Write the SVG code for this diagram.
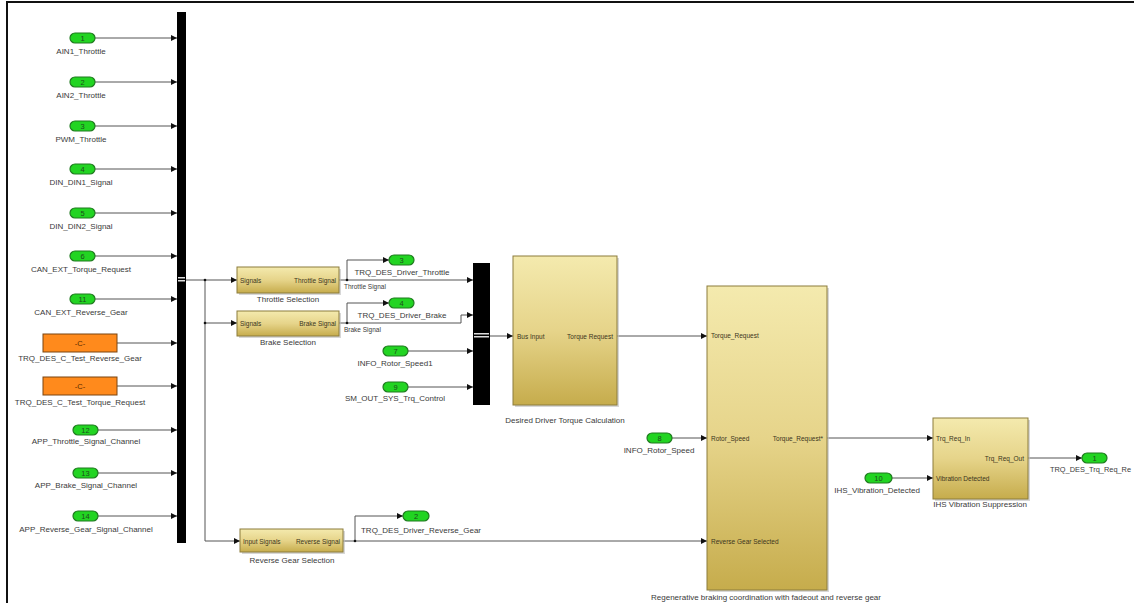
<svg xmlns="http://www.w3.org/2000/svg" width="1134" height="607" viewBox="0 0 1134 607">
<defs>
<linearGradient id="gold" x1="0" y1="0" x2="0" y2="1">
<stop offset="0" stop-color="#f4eaae"/>
<stop offset="0.5" stop-color="#e6d48a"/>
<stop offset="1" stop-color="#c6ac4c"/>
</linearGradient>
<marker id="ar" viewBox="0 0 6 6" refX="6" refY="3" markerWidth="6" markerHeight="6" markerUnits="userSpaceOnUse" orient="auto">
<path d="M0,0 L6,3 L0,6 z" fill="#111"/>
</marker>
<style>
text{font-family:"Liberation Sans",Arial,sans-serif;fill:#3a3a3a}
.lbl{font-size:8px;text-anchor:middle}
.port{font-size:6.5px;fill:#3b3520}
.num{font-size:7.5px;text-anchor:middle;fill:#1d4d1d}
.in{fill:#22d422;stroke:#1f7a1f;stroke-width:1.2}
.cst{fill:#ff8a1c;stroke:#7a4510;stroke-width:1}
.blk{fill:url(#gold);stroke:#8c7c3c;stroke-width:1}
.sh{fill:#bdbdbd;opacity:0.6}
.bus{fill:#000}
.w{stroke:#555;stroke-width:1;fill:none}
.wa{stroke:#555;stroke-width:1;fill:none;marker-end:url(#ar)}
.dot{fill:#111}
</style>
</defs>
<rect width="1134" height="607" fill="#fff"/>
<path d="M7,603 V2 H1134" fill="none" stroke="#111" stroke-width="2"/>

<g id="connectors">
<path class="wa" d="M95,38 H177"/>
<path class="wa" d="M95,82 H177"/>
<path class="wa" d="M95,126 H177"/>
<path class="wa" d="M95,169 H177"/>
<path class="wa" d="M95,213 H177"/>
<path class="wa" d="M95,256 H177"/>
<path class="wa" d="M95,299 H177"/>
<path class="wa" d="M117,343 H177"/>
<path class="wa" d="M117,386 H177"/>
<path class="wa" d="M98,430 H177"/>
<path class="wa" d="M98,473 H177"/>
<path class="wa" d="M98,516 H177"/>
<path class="wa" d="M186,280 H237"/>
<path class="wa" d="M205,280 V323 H237"/>
<path class="wa" d="M205,323 V541 H240"/>
<circle class="dot" cx="205" cy="280" r="1.3"/>
<circle class="dot" cx="205" cy="323" r="1.3"/>
<path class="wa" d="M339,280 H473"/>
<path class="wa" d="M347,280 V260 H389"/>
<circle class="dot" cx="347" cy="280" r="1.3"/>
<path class="wa" d="M339,323 H461 V315 H473"/>
<path class="wa" d="M347,323 V303 H389"/>
<circle class="dot" cx="347" cy="323" r="1.3"/>
<path class="wa" d="M408,351 H473"/>
<path class="wa" d="M408,387 H473"/>
<path class="wa" d="M490,336 H513"/>
<path class="wa" d="M617,336 H707"/>
<path class="wa" d="M672,438 H707"/>
<path class="wa" d="M343,541 H707"/>
<path class="wa" d="M355,541 V516 H403"/>
<circle class="dot" cx="355" cy="541" r="1.3"/>
<path class="wa" d="M827,438 H933"/>
<path class="wa" d="M892,478 H933"/>
<path class="wa" d="M1028,458 H1082"/>
<text x="344" y="289" style="font-size:6.5px">Throttle Signal</text>
<text x="344" y="332" style="font-size:6.5px">Brake Signal</text>
</g>

<g id="bus1"><rect class="bus" x="177" y="12" width="9" height="531"/><rect x="178" y="277" width="7" height="1.5" fill="#ddd"/><rect x="178" y="280" width="7" height="1.5" fill="#ddd"/></g>
<g id="bus2"><rect class="bus" x="473" y="263" width="17" height="142"/><rect x="474" y="333" width="15" height="1.5" fill="#ddd"/><rect x="474" y="336" width="15" height="1.5" fill="#ddd"/></g>

<g id="in1"><rect class="in" x="70" y="33" width="25" height="10" rx="5"/><text class="num" x="82.5" y="40.7">1</text><text class="lbl" x="81" y="54">AIN1_Throttle</text></g>
<g id="in2"><rect class="in" x="70" y="77" width="25" height="10" rx="5"/><text class="num" x="82.5" y="84.7">2</text><text class="lbl" x="81" y="98">AIN2_Throttle</text></g>
<g id="in3"><rect class="in" x="70" y="121" width="25" height="10" rx="5"/><text class="num" x="82.5" y="128.7">3</text><text class="lbl" x="81" y="142">PWM_Throttle</text></g>
<g id="in4"><rect class="in" x="70" y="164" width="25" height="10" rx="5"/><text class="num" x="82.5" y="171.7">4</text><text class="lbl" x="81" y="185">DIN_DIN1_Signal</text></g>
<g id="in5"><rect class="in" x="70" y="208" width="25" height="10" rx="5"/><text class="num" x="82.5" y="215.7">5</text><text class="lbl" x="81" y="229">DIN_DIN2_Signal</text></g>
<g id="in6"><rect class="in" x="70" y="251" width="25" height="10" rx="5"/><text class="num" x="82.5" y="258.7">6</text><text class="lbl" x="81" y="272">CAN_EXT_Torque_Request</text></g>
<g id="in11"><rect class="in" x="70" y="294" width="25" height="10" rx="5"/><text class="num" x="82.5" y="301.7">11</text><text class="lbl" x="81" y="315">CAN_EXT_Reverse_Gear</text></g>
<g id="const1"><rect class="cst" x="43" y="334" width="74" height="18"/><text class="num" x="80" y="345.5" style="fill:#5a2a00">-C-</text><text class="lbl" x="80" y="361">TRQ_DES_C_Test_Reverse_Gear</text></g>
<g id="const2"><rect class="cst" x="43" y="377" width="74" height="18"/><text class="num" x="80" y="388.5" style="fill:#5a2a00">-C-</text><text class="lbl" x="80" y="405">TRQ_DES_C_Test_Torque_Request</text></g>
<g id="in12"><rect class="in" x="73" y="425" width="25" height="10" rx="5"/><text class="num" x="85.5" y="432.7">12</text><text class="lbl" x="86" y="444">APP_Throttle_Signal_Channel</text></g>
<g id="in13"><rect class="in" x="73" y="468" width="25" height="10" rx="5"/><text class="num" x="85.5" y="475.7">13</text><text class="lbl" x="86" y="488">APP_Brake_Signal_Channel</text></g>
<g id="in14"><rect class="in" x="73" y="511" width="25" height="10" rx="5"/><text class="num" x="85.5" y="518.7">14</text><text class="lbl" x="86" y="532">APP_Reverse_Gear_Signal_Channel</text></g>

<g id="throttle_sel"><rect class="sh" x="239" y="269" width="102" height="26"/><rect class="blk" x="237" y="267" width="102" height="26"/><text class="port" x="240" y="282.5">Signals</text><text class="port" x="336" y="282.5" text-anchor="end">Throttle Signal</text><text class="lbl" x="288" y="302">Throttle Selection</text></g>
<g id="brake_sel"><rect class="sh" x="239" y="313" width="102" height="25"/><rect class="blk" x="237" y="311" width="102" height="25"/><text class="port" x="240" y="325.5">Signals</text><text class="port" x="336" y="325.5" text-anchor="end">Brake Signal</text><text class="lbl" x="288" y="345">Brake Selection</text></g>
<g id="reverse_sel"><rect class="sh" x="242" y="531" width="103" height="23"/><rect class="blk" x="240" y="529" width="103" height="23"/><text class="port" x="243" y="543.5">Input Signals</text><text class="port" x="340" y="543.5" text-anchor="end">Reverse Signal</text><text class="lbl" x="292" y="563">Reverse Gear Selection</text></g>

<g id="out3"><rect class="in" x="389" y="255" width="25" height="10" rx="5"/><text class="num" x="401.5" y="262.7">3</text><text class="lbl" x="402" y="275">TRQ_DES_Driver_Throttle</text></g>
<g id="out4"><rect class="in" x="389" y="298" width="25" height="10" rx="5"/><text class="num" x="401.5" y="305.7">4</text><text class="lbl" x="402" y="318">TRQ_DES_Driver_Brake</text></g>
<g id="in7"><rect class="in" x="383" y="346" width="25" height="10" rx="5"/><text class="num" x="395.5" y="353.7">7</text><text class="lbl" x="395" y="366">INFO_Rotor_Speed1</text></g>
<g id="in9"><rect class="in" x="383" y="382" width="25" height="10" rx="5"/><text class="num" x="395.5" y="389.7">9</text><text class="lbl" x="395" y="401">SM_OUT_SYS_Trq_Control</text></g>
<g id="out2"><rect class="in" x="403" y="511" width="26" height="10" rx="5"/><text class="num" x="416" y="518.7">2</text><text class="lbl" x="421" y="533">TRQ_DES_Driver_Reverse_Gear</text></g>

<g id="desired"><rect class="sh" x="515" y="258" width="104" height="149"/><rect class="blk" x="513" y="256" width="104" height="149"/><text class="port" x="517" y="338.5">Bus Input</text><text class="port" x="613" y="338.5" text-anchor="end">Torque Request</text><text class="lbl" x="565" y="423">Desired Driver Torque Calculation</text></g>

<g id="in8"><rect class="in" x="647" y="433" width="25" height="10" rx="5"/><text class="num" x="659.5" y="440.7">8</text><text class="lbl" x="659" y="453">INFO_Rotor_Speed</text></g>

<g id="regen"><rect class="sh" x="709" y="288" width="120" height="304"/><rect class="blk" x="707" y="286" width="120" height="304"/><text class="port" x="711" y="338">Torque_Request</text><text class="port" x="711" y="440.5">Rotor_Speed</text><text class="port" x="823" y="440.5" text-anchor="end">Torque_Request*</text><text class="port" x="711" y="543.5">Reverse Gear Selected</text><text class="lbl" x="766" y="600">Regenerative braking coordination with fadeout and reverse gear</text></g>

<g id="in10"><rect class="in" x="865" y="473" width="27" height="10" rx="5"/><text class="num" x="878.5" y="480.7">10</text><text class="lbl" x="877" y="493">IHS_Vibration_Detected</text></g>

<g id="ihs"><rect class="sh" x="935" y="420" width="95" height="81"/><rect class="blk" x="933" y="418" width="95" height="81"/><text class="port" x="936" y="440.5">Trq_Req_In</text><text class="port" x="1024" y="460.5" text-anchor="end">Trq_Req_Out</text><text class="port" x="936" y="480.5">Vibration Detected</text><text class="lbl" x="980" y="507">IHS Vibration Suppression</text></g>

<g id="out1"><rect class="in" x="1082" y="453" width="25" height="10" rx="5"/><text class="num" x="1094.5" y="460.7">1</text><text x="1050" y="472" style="font-size:7.4px">TRQ_DES_Trq_Req_Re</text></g>
</svg>
